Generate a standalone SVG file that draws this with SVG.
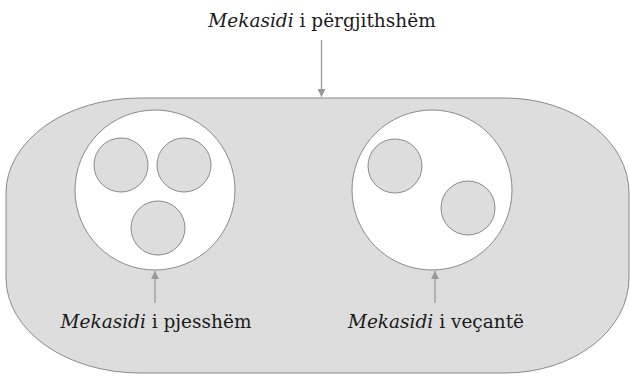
<svg xmlns="http://www.w3.org/2000/svg" width="630" height="376" viewBox="0 0 630 376">
<style>
.t{font-family:"DejaVu Serif","Liberation Serif",serif;font-size:18.5px;fill:#1a1a1a}
.i{font-style:italic}
.g{fill:#dddddd;stroke:#8a8a8a;stroke-width:1}
.w{fill:#ffffff;stroke:#8a8a8a;stroke-width:1}
.a{stroke:#999999;stroke-width:1.3;fill:none;marker-end:url(#ah)}
</style>
<defs>
<marker id="ah" viewBox="0 0 10 10" refX="10" refY="5" markerWidth="8" markerHeight="8" markerUnits="userSpaceOnUse" orient="auto">
<path d="M0,0 L10,5 L0,10 z" fill="#999999"/>
</marker>
</defs>
<g id="general">
<path class="g" d="M140,98 L505,98 A124,95 0 0 1 629,193 L629,278 A124,95 0 0 1 505,373 L140,373 A134,95 0 0 1 6,278 L6,193 A134,95 0 0 1 140,98 Z"/>
</g>
<g id="partial">
<circle class="w" cx="155" cy="190" r="80"/>
<circle class="g" cx="121" cy="165" r="27"/>
<circle class="g" cx="184" cy="165" r="27"/>
<circle class="g" cx="158" cy="228" r="27"/>
</g>
<g id="specific">
<circle class="w" cx="432" cy="190" r="80"/>
<circle class="g" cx="395" cy="166" r="27"/>
<circle class="g" cx="468" cy="208" r="27"/>
</g>
<g id="connectors">
<line class="a" x1="321.5" y1="40" x2="321.5" y2="97"/>
<line class="a" x1="155" y1="303" x2="155" y2="271"/>
<line class="a" x1="435" y1="303" x2="435" y2="271"/>
</g>
<g id="labels">
<text class="t" x="322" y="27" text-anchor="middle"><tspan class="i">Mekasidi</tspan> i përgjithshëm</text>
<text class="t" x="156" y="328" text-anchor="middle"><tspan class="i">Mekasidi</tspan> i pjesshëm</text>
<text class="t" x="436" y="328" text-anchor="middle"><tspan class="i">Mekasidi</tspan> i veçantë</text>
</g>
</svg>
